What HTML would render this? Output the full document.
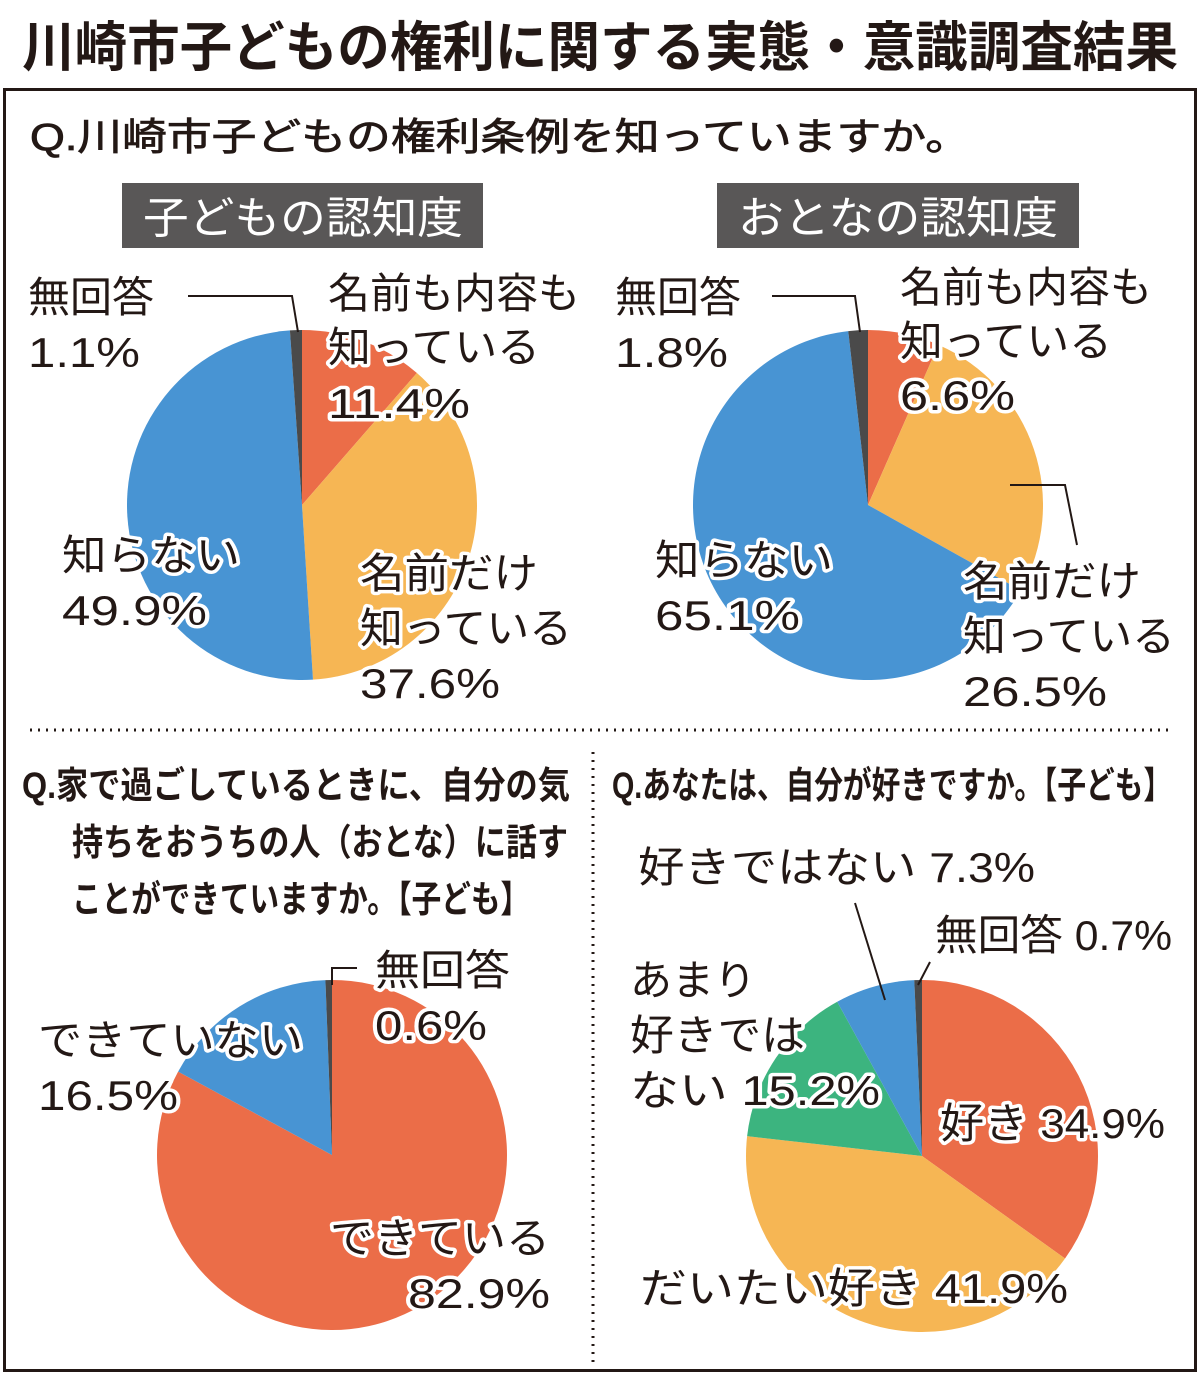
<!DOCTYPE html>
<html><head><meta charset="utf-8"><style>
html,body{margin:0;padding:0;background:#fff;}
svg{display:block;}
text{font-family:"Liberation Sans","Noto Sans CJK JP",sans-serif;fill:#231815;}
.l{font-size:42px;stroke:#fff;stroke-width:7px;paint-order:stroke;stroke-linejoin:round;}
.q{font-size:37px;font-weight:bold;}
</style></head><body>
<svg id="s" width="1200" height="1374" viewBox="0 0 1200 1374" xmlns="http://www.w3.org/2000/svg">
<rect width="1200" height="1374" fill="#fff"/>
<text x="22" y="66" font-size="54" font-weight="bold" textLength="1156" lengthAdjust="spacingAndGlyphs">川崎市子どもの権利に関する実態・意識調査結果</text>
<rect x="4.5" y="89.5" width="1191" height="1281" fill="none" stroke="#231815" stroke-width="3"/>
<text x="30" y="150" font-size="38" stroke="#231815" stroke-width="0.8" textLength="940" lengthAdjust="spacingAndGlyphs">Q.川崎市子どもの権利条例を知っていますか。</text>
<rect x="122" y="183" width="361" height="65" fill="#595757"/>
<text x="143" y="233" font-size="44" style="fill:#fff" textLength="320" lengthAdjust="spacingAndGlyphs">子どもの認知度</text>
<rect x="717" y="183" width="362" height="65" fill="#595757"/>
<text x="738" y="233" font-size="44" style="fill:#fff" textLength="320" lengthAdjust="spacingAndGlyphs">おとなの認知度</text>
<g id="pies"></g>
<line x1="30" y1="730" x2="1170" y2="730" stroke="#231815" stroke-width="3" stroke-dasharray="2 6"/>
<line x1="593" y1="752" x2="593" y2="1362" stroke="#231815" stroke-width="3" stroke-dasharray="2 6"/>
<g fill="none" stroke="#231815" stroke-width="2">
<polyline points="188,296 292,296 298,332"/>
<polyline points="772,296 855,296 860,332"/>
<polyline points="1010,485 1065,485 1077,545"/>
<polyline points="357,968 332,968 332,985"/>
<line x1="855" y1="903" x2="885" y2="1000"/>
<line x1="930" y1="962" x2="918" y2="985"/>
</g>
<g id="labels">
<text class="l" x="28" y="312">無回答</text><text class="l" x="28" y="367" textLength="112" lengthAdjust="spacingAndGlyphs">1.1%</text>
<text class="l" x="328" y="308">名前も内容も</text><text class="l" x="328" y="362" textLength="212" lengthAdjust="spacingAndGlyphs">知っている</text><text class="l" x="328" y="418" textLength="142" lengthAdjust="spacingAndGlyphs">11.4%</text>
<text class="l" x="62" y="570" textLength="178" lengthAdjust="spacingAndGlyphs">知らない</text><text class="l" x="62" y="625" textLength="145" lengthAdjust="spacingAndGlyphs">49.9%</text>
<text class="l" x="360" y="588" textLength="178" lengthAdjust="spacingAndGlyphs">名前だけ</text><text class="l" x="360" y="643" textLength="212" lengthAdjust="spacingAndGlyphs">知っている</text><text class="l" x="360" y="698" textLength="140" lengthAdjust="spacingAndGlyphs">37.6%</text>
<text class="l" x="615" y="312">無回答</text><text class="l" x="615" y="367" textLength="113" lengthAdjust="spacingAndGlyphs">1.8%</text>
<text class="l" x="900" y="302">名前も内容も</text><text class="l" x="900" y="356" textLength="212" lengthAdjust="spacingAndGlyphs">知っている</text><text class="l" x="900" y="410" textLength="115" lengthAdjust="spacingAndGlyphs">6.6%</text>
<text class="l" x="655" y="575" textLength="178" lengthAdjust="spacingAndGlyphs">知らない</text><text class="l" x="655" y="630" textLength="145" lengthAdjust="spacingAndGlyphs">65.1%</text>
<text class="l" x="963" y="596" textLength="178" lengthAdjust="spacingAndGlyphs">名前だけ</text><text class="l" x="963" y="651" textLength="212" lengthAdjust="spacingAndGlyphs">知っている</text><text class="l" x="963" y="706" textLength="144" lengthAdjust="spacingAndGlyphs">26.5%</text>
<text class="q" x="22" y="798" textLength="548" lengthAdjust="spacingAndGlyphs">Q.家で過ごしているときに、自分の気</text>
<text class="q" x="72" y="855" textLength="496" lengthAdjust="spacingAndGlyphs">持ちをおうちの人（おとな）に話す</text>
<text class="q" x="72" y="912" textLength="458" lengthAdjust="spacingAndGlyphs">ことができていますか。【子ども】</text>
<text class="q" x="612" y="798" textLength="560" lengthAdjust="spacingAndGlyphs">Q.あなたは、自分が好きですか。【子ども】</text>
<text class="l" x="375" y="985" textLength="135" lengthAdjust="spacingAndGlyphs">無回答</text><text class="l" x="375" y="1040" textLength="112" lengthAdjust="spacingAndGlyphs">0.6%</text>
<text class="l" x="38" y="1055" textLength="265" lengthAdjust="spacingAndGlyphs">できていない</text><text class="l" x="38" y="1110" textLength="140" lengthAdjust="spacingAndGlyphs">16.5%</text>
<text class="l" x="330" y="1253" textLength="220" lengthAdjust="spacingAndGlyphs">できている</text><text class="l" x="408" y="1308" textLength="142" lengthAdjust="spacingAndGlyphs">82.9%</text>
<text class="l" x="638" y="882" textLength="397" lengthAdjust="spacingAndGlyphs">好きではない 7.3%</text>
<text class="l" x="935" y="950" textLength="237" lengthAdjust="spacingAndGlyphs">無回答 0.7%</text>
<text class="l" x="630" y="995">あまり</text><text class="l" x="630" y="1050" textLength="175" lengthAdjust="spacingAndGlyphs">好きでは</text>
<text class="l" x="630" y="1105" textLength="250" lengthAdjust="spacingAndGlyphs">ない 15.2%</text>
<text class="l" x="940" y="1138" textLength="225" lengthAdjust="spacingAndGlyphs">好き 34.9%</text>
<text class="l" x="640" y="1303" textLength="428" lengthAdjust="spacingAndGlyphs">だいたい好き 41.9%</text>
</g>
</svg>
<script>
var O="#EB6D48",Y="#F6B654",B="#4894D3",G="#4A4A4A",GR="#3CB47F";
var pies=[
 [302,505,175,[[11.4,O],[37.6,Y],[49.9,B],[1.1,G]]],
 [868,505,175,[[6.6,O],[26.5,Y],[65.1,B],[1.8,G]]],
 [332,1155,175,[[82.9,O],[16.5,B],[0.6,G]]],
 [922,1156,176,[[34.9,O],[41.9,Y],[15.2,GR],[7.3,B],[0.7,G]]]
];
var g=document.getElementById('pies'),ns="http://www.w3.org/2000/svg";
pies.forEach(function(p){
 var cx=p[0],cy=p[1],r=p[2],tot=0;p[3].forEach(function(s){tot+=s[0];});
 var a=0;
 p[3].forEach(function(s){
  var a0=a/tot*2*Math.PI,a1=(a+s[0])/tot*2*Math.PI;a+=s[0];
  var x0=cx+r*Math.sin(a0),y0=cy-r*Math.cos(a0),x1=cx+r*Math.sin(a1),y1=cy-r*Math.cos(a1);
  var path=document.createElementNS(ns,'path');
  path.setAttribute('d','M'+cx+','+cy+'L'+x0+','+y0+'A'+r+','+r+' 0 '+((a1-a0)>Math.PI?1:0)+' 1 '+x1+','+y1+'Z');
  path.setAttribute('fill',s[1]);g.appendChild(path);
 });
});
</script>
</body></html>
